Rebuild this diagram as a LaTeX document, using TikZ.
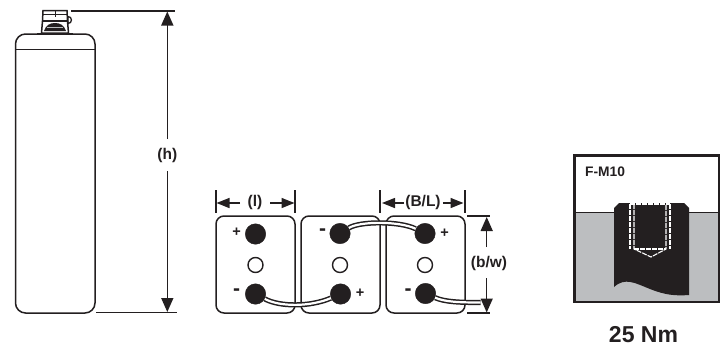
\documentclass[tikz,border=0pt]{standalone}
\usepackage{fontspec}
\setmainfont{Liberation Sans}
\usetikzlibrary{arrows.meta}
\definecolor{ink}{HTML}{231F20}
\definecolor{steel}{HTML}{BCBEC0}
\tikzset{
  outline/.style={draw=ink,line width=1.5pt},
  batt/.style={outline,rounded corners=8pt,minimum width=79pt,minimum height=97pt,inner sep=0pt},
  pole/.style={circle,fill=ink,draw=ink,minimum size=20.5pt,inner sep=0pt},
  vent/.style={circle,fill=white,draw=ink,line width=1.4pt,minimum size=15pt,inner sep=0pt},
  cable/.style={draw=ink,line width=1.5pt,double=white,double distance=2.2pt},
  tick/.style={draw=ink,line width=1.2pt},
  dim/.style={draw=ink,line width=1.5pt,-{Triangle[length=13pt,width=10pt]}},
  dimbig/.style={draw=ink,line width=1.5pt,-{Triangle[length=14pt,width=12pt]}},
  lbl/.style={font=\bfseries\fontsize{15.5}{15.5}\selectfont,text=ink,inner sep=0pt},
  sgn/.style={font=\bfseries\fontsize{14.5}{14.5}\selectfont,text=ink,inner sep=0pt},
  neg/.style={font=\bfseries\fontsize{21}{21}\selectfont,text=ink,inner sep=0pt},
  whitedash/.style={draw=white,line width=1.1pt,dash pattern=on 5pt off 1pt},
}
\begin{document}
\begin{tikzpicture}[x=1pt,y=-1pt]
\useasboundingbox (0,0) rectangle (727,346);
% bottle
\draw[outline,rounded corners=10pt] (15.5,34) rectangle (95,313);
\draw[draw=ink,line width=1pt] (15.5,49) -- (95,49);
\draw[draw=ink,line width=2pt] (37,33.5) -- (73,33.5);
\draw[draw=ink,line width=1.3pt,fill=white] (68,16.5) arc (-90:90:3.5) -- cycle;
\draw[draw=ink,line width=1.5pt,fill=white] (43,10.5) -- (67,10.5) -- (67.5,21) -- (68.5,33) -- (41.5,33) -- (42.5,21) -- cycle;
\draw[draw=ink,line width=1pt] (43,14) -- (67,14);
\draw[draw=ink,line width=1.2pt] (42.5,21) -- (67.5,21);
\draw[draw=ink,line width=0.8pt] (55,11) -- (55,17);
\fill[ink] (44,31) .. controls (46,25) and (50,23) .. (55,23) .. controls (60,23) and (64,25) .. (66,31) -- cycle;
\draw[draw=steel,line width=1pt] (47,27.5) -- (63,27.5);
% height dimension
\coordinate (htop) at (71,11);
\coordinate (htopr) at (175,11);
\coordinate (hbot) at (96,312.5);
\coordinate (hbotr) at (177,312.5);
\draw[tick] (htop) -- (htopr);
\draw[tick] (hbot) -- (hbotr);
\node[lbl] (hl) at (167.3,155) {(h)};
\coordinate (ha) at (167.3,11.5);
\coordinate (hb) at (167.3,312);
\coordinate (ha0) at (167.3,139);
\coordinate (hb0) at (167.3,171);
\draw[dimbig] (ha0) -- (ha);
\draw[dimbig] (hb0) -- (hb);
% batteries
\node[batt] (b1) at (255.5,264.5) {};
\node[batt] (b2) at (340.5,264.5) {};
\node[batt] (b3) at (425.5,264.5) {};
\node[pole] (p1t) at (255.5,234) {};
\node[vent] (v1) at (255.5,265) {};
\node[pole] (p1b) at (255.5,294) {};
\node[pole] (p2t) at (340,233.5) {};
\node[vent] (v2) at (340,265) {};
\node[pole] (p2b) at (340.5,294) {};
\node[pole] (p3t) at (425,233.5) {};
\node[vent] (v3) at (425,265) {};
\node[pole] (p3b) at (425.5,293.5) {};
\coordinate (cend) at (480.5,302.5);
\draw[cable] (p1b) .. controls (280,307) and (310,307) .. (p2b);
\draw[cable] (p2t) .. controls (360,221) and (400,221) .. (p3t);
\draw[cable] (p3b) .. controls (445,302) and (460,302.5) .. (cend);
\node[sgn] at (236.5,232.5) {+};
\node[neg] at (236.5,292.5) {-};
\node[neg] at (322.5,232) {-};
\node[sgn] at (360,293.5) {+};
\node[sgn] at (444.5,233.5) {+};
\node[neg] at (408,292) {-};
% (l)
\coordinate (l1a) at (216,190);
\coordinate (l1b) at (216,213);
\coordinate (l2a) at (295,190);
\coordinate (l2b) at (295,213);
\draw[tick] (l1a) -- (l1b);
\draw[tick] (l2a) -- (l2b);
\node[lbl] (ll) at (255,202.5) {(l)};
\coordinate (l1t) at (216.5,203);
\coordinate (l2t) at (294.5,203);
\coordinate (l10) at (240,203);
\coordinate (l20) at (270,203);
\draw[dim] (l10) -- (l1t);
\draw[dim] (l20) -- (l2t);
% (B/L)
\coordinate (m1a) at (380,190);
\coordinate (m1b) at (380,213);
\coordinate (m2a) at (465,190);
\coordinate (m2b) at (465,213);
\draw[tick] (m1a) -- (m1b);
\draw[tick] (m2a) -- (m2b);
\node[lbl] (ml) at (423,202) {(B/L)};
\coordinate (m1t) at (382,203);
\coordinate (m2t) at (463.5,203);
\draw[dim] (ml.west) ++(-1,1) -- (m1t);
\draw[dim] (ml.east) ++(2,1) -- (m2t);
% (b/w)
\coordinate (w1a) at (467,216);
\coordinate (w1b) at (490,216);
\coordinate (w2a) at (467,313);
\coordinate (w2b) at (490,313);
\draw[tick] (w1a) -- (w1b);
\draw[tick] (w2a) -- (w2b);
\node[lbl] (wl) at (489,263) {(b/w)};
\coordinate (wt) at (486.7,217);
\coordinate (wb) at (486.7,312.5);
\coordinate (wt0) at (486.7,247);
\coordinate (wb0) at (486.7,278);
\draw[dimbig] (wt0) -- (wt);
\draw[dimbig] (wb0) -- (wb);
% bolt panel
\fill[white] (574.5,155.5) rectangle (719,302);
\fill[steel] (574.5,212) rectangle (719,302);
\draw[draw=ink,line width=0.9pt] (574.5,212) -- (719,212);
\fill[ink] (614,212) -- (614,208) -- (619,203) -- (684,203) -- (689,208) -- (689,295)
  .. controls (675,296) and (665,295) .. (650,289) .. controls (635,283) and (625,277) .. (614,287) -- cycle;
\draw[draw=ink,line width=2.4pt] (574.5,155.5) rectangle (719,302);
\draw[whitedash] (630,204) -- (630,249);
\draw[whitedash] (670,204) -- (670,249);
\draw[whitedash] (634,204) -- (634,249) -- (651,257) -- (666,249) -- (666,204);
\draw[whitedash] (630,204) -- (670,204);
\draw[whitedash] (634,249) -- (666,249);
\node[font=\bfseries\fontsize{13.8}{14}\selectfont,text=ink,inner sep=0pt] (fm) at (605,172) {F-M10};
\node[font=\bfseries\fontsize{23}{23}\selectfont,text=ink,inner sep=0pt] (nm) at (643.5,335) {25 Nm};
\end{tikzpicture}
\end{document}
